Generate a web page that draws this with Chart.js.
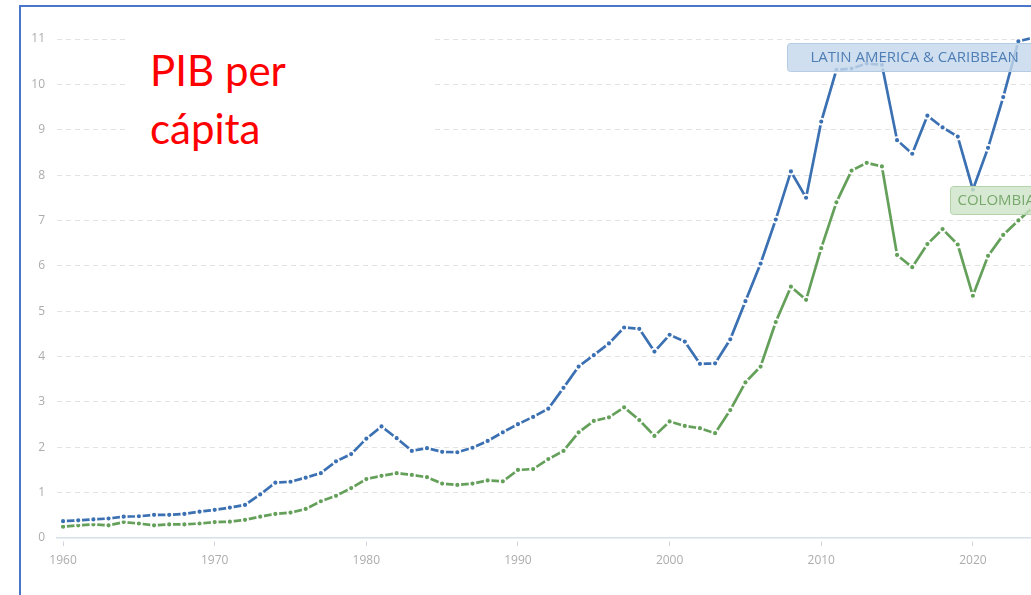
<!DOCTYPE html>
<html>
<head>
<meta charset="utf-8">
<script src="https://cdn.jsdelivr.net/npm/chart.js@4.4.0/dist/chart.umd.min.js"></script>
<style>
  html, body { margin: 0; padding: 0; overflow: hidden; background: #fff; width: 1031px; height: 595px; }
  #wrap { position: absolute; left: 0; top: 0; width: 1100px; height: 595px; }
  #frame { position: absolute; left: 19px; top: 5px; width: 1200px; height: 800px; border: 2px solid #4a76c9; box-sizing: border-box; pointer-events: none; }
  #title { position: absolute; left: 127px; top: 22px; width: 308px; height: 140px; background: #fff;
           padding: 19px 0 0 23px; box-sizing: border-box; font-family: Lato, sans-serif; font-size: 42px;
           line-height: 58px; color: #ff0000; }
</style>
</head>
<body>
<div id="wrap"><canvas id="chart" width="1100" height="595"></canvas></div>
<div id="title">PIB per<br>cápita</div>
<div id="frame"></div>
<script>
// years on the x axis
const years = [
  1960, 1961, 1962, 1963, 1964, 1965, 1966, 1967, 1968, 1969,
  1970, 1971, 1972, 1973, 1974, 1975, 1976, 1977, 1978, 1979,
  1980, 1981, 1982, 1983, 1984, 1985, 1986, 1987, 1988, 1989,
  1990, 1991, 1992, 1993, 1994, 1995, 1996, 1997, 1998, 1999,
  2000, 2001, 2002, 2003, 2004, 2005, 2006, 2007, 2008, 2009,
  2010, 2011, 2012, 2013, 2014, 2015, 2016, 2017, 2018, 2019,
  2020, 2021, 2022, 2023, 2024
];

// GDP per capita, thousands of US$
const latamValues = [
  0.37, 0.39, 0.41, 0.43, 0.47, 0.48, 0.51, 0.51, 0.53, 0.58,
  0.62, 0.67, 0.73, 0.96, 1.22, 1.24, 1.33, 1.43, 1.69, 1.85,
  2.19, 2.46, 2.20, 1.92, 1.98, 1.90, 1.89, 1.99, 2.14, 2.33,
  2.51, 2.67, 2.85, 3.31, 3.78, 4.03, 4.29, 4.64, 4.61, 4.11,
  4.48, 4.33, 3.84, 3.85, 4.38, 5.22, 6.05, 7.02, 8.08, 7.50,
  9.18, 10.32, 10.35, 10.46, 10.43, 8.77, 8.47, 9.31, 9.05, 8.85,
  7.68, 8.60, 9.72, 10.95, 11.03
];

const colombiaValues = [
  0.25, 0.28, 0.30, 0.28, 0.35, 0.32, 0.28, 0.30, 0.30, 0.32,
  0.35, 0.36, 0.40, 0.47, 0.53, 0.56, 0.64, 0.81, 0.93, 1.10,
  1.30, 1.37, 1.43, 1.39, 1.34, 1.20, 1.17, 1.20, 1.27, 1.25,
  1.50, 1.52, 1.74, 1.92, 2.33, 2.58, 2.66, 2.88, 2.60, 2.25,
  2.57, 2.47, 2.42, 2.31, 2.82, 3.43, 3.78, 4.76, 5.54, 5.25,
  6.39, 7.40, 8.10, 8.27, 8.19, 6.24, 5.97, 6.48, 6.81, 6.47,
  5.34, 6.22, 6.68, 7.00, 7.30
];

const seriesNames = ["LATIN AMERICA & CARIBBEAN", "COLOMBIA"];
const xTickYears = [1960, 1970, 1980, 1990, 2000, 2010, 2020];
const yTickValues = [0, 1, 2, 3, 4, 5, 6, 7, 8, 9, 10, 11];

const blue = "#3b70b2";
const green = "#64a05a";

// horizontal scale: first year sits 6px in, 15.19px per year
const xStart = 1959.6;
const pxPerYear = 15.19;

function toPoints(values) {
  return values.map((v, i) => ({ x: years[i], y: v }));
}

// boxed series names drawn on top of the lines
const seriesLabels = {
  id: "seriesLabels",
  afterDatasetsDraw(chart) {
    const ctx = chart.ctx;
    const xs = chart.scales.x, ys = chart.scales.y;
    const specs = [
      { text: seriesNames[0], year: 2007.76, value: 10.6, padX: 23,
        fill: "rgba(196, 216, 236, 0.82)", stroke: "#b4cbe4", color: "#4f7eb6" },
      { text: seriesNames[1], year: 2018.49, value: 7.46, padX: 7,
        fill: "rgba(206, 228, 200, 0.82)", stroke: "#b3d4aa", color: "#78a96c" }
    ];
    ctx.save();
    ctx.font = '15px "Open Sans"';
    specs.forEach(s => {
      const left = Math.round(xs.getPixelForValue(s.year)) + 0.5;
      const cy = ys.getPixelForValue(s.value);
      const h = 28;
      const w = ctx.measureText(s.text).width + s.padX * 2;
      ctx.beginPath();
      ctx.roundRect(left, Math.round(cy - h / 2) + 0.5, w, h, 3);
      ctx.fillStyle = s.fill;
      ctx.fill();
      ctx.strokeStyle = s.stroke;
      ctx.lineWidth = 1;
      ctx.stroke();
      ctx.fillStyle = s.color;
      ctx.textBaseline = "middle";
      ctx.fillText(s.text, left + s.padX, cy + 1);
    });
    ctx.restore();
  }
};

const tickFont = { family: "Open Sans", size: 12 };

function lineDataset(name, values, color) {
  return {
    label: name,
    data: toPoints(values),
    borderColor: color,
    backgroundColor: color,
    pointBackgroundColor: color,
    pointBorderColor: "#fff",
    borderWidth: 2.7,
    pointRadius: 3,
    pointBorderWidth: 1.8,
    tension: 0,
    clip: false
  };
}

new Chart(document.getElementById("chart"), {
  type: "line",
  data: {
    datasets: [
      lineDataset(seriesNames[0], latamValues, blue),
      lineDataset(seriesNames[1], colombiaValues, green)
    ]
  },
  options: {
    responsive: false,
    animation: false,
    devicePixelRatio: 1,
    layout: { padding: { top: 39, right: 0, bottom: 0, left: 0 } },
    plugins: { legend: { display: false }, tooltip: { enabled: false } },
    scales: {
      x: {
        type: "linear",
        min: xStart,
        max: 2028,
        afterDataLimits: s => {
          s.min = xStart;
          if (s.width > 100) s.max = xStart + s.width / pxPerYear;
        },
        afterBuildTicks: s => { s.ticks = xTickYears.map(v => ({ value: v })); },
        afterFit: s => { s.height = 57; },
        grid: { drawOnChartArea: false, tickLength: 8, tickColor: "#cdd6e0", tickBorderDash: [0, 3, 5, 100] },
        border: { color: "#d6e0ea", width: 1.5 },
        ticks: { padding: 7, color: "#acacac", font: tickFont, maxRotation: 0, callback: v => String(v) }
      },
      y: {
        min: 0,
        max: 11,
        afterBuildTicks: s => { s.ticks = yTickValues.map(v => ({ value: v })); },
        afterFit: s => { s.width = 57; },
        grid: { color: c => (c.tick && c.tick.value === 0 ? "rgba(0,0,0,0)" : "#e2e2e2"), drawTicks: false },
        border: { display: false, dash: [5, 4] },
        ticks: { padding: 12, color: "#acacac", font: tickFont }
      }
    }
  },
  plugins: [seriesLabels]
});
</script>
</body>
</html>
